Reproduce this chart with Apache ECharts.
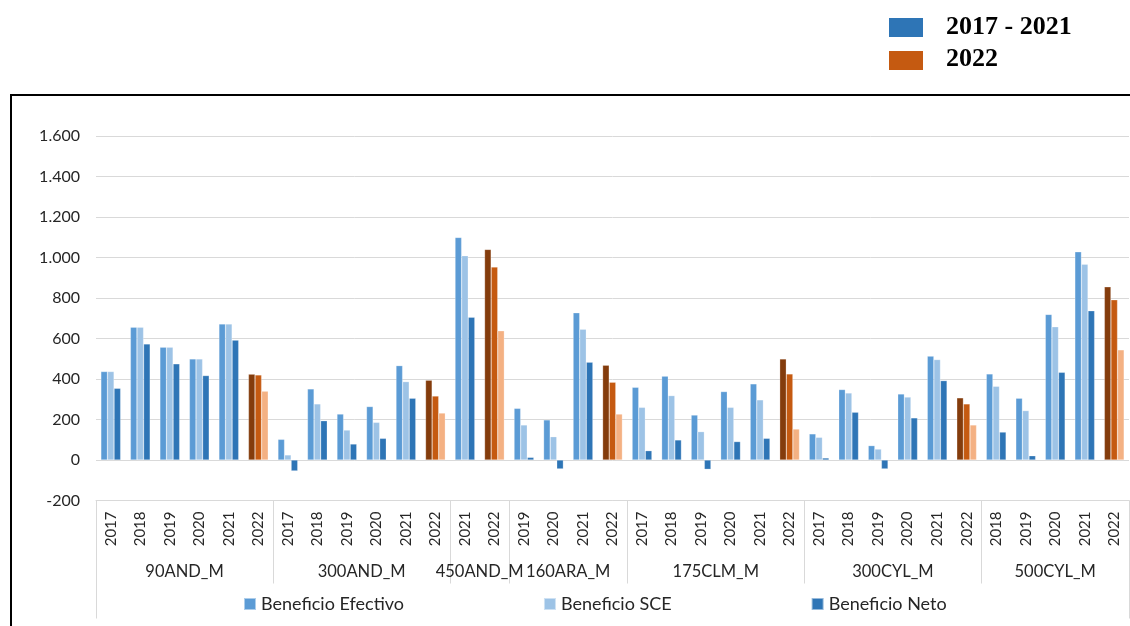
<!DOCTYPE html>
<html>
<head>
<meta charset="utf-8">
<script src="https://cdn.jsdelivr.net/npm/echarts@6/dist/echarts.min.js"></script>
<style>html,body{margin:0;padding:0;background:#fff;}#c{width:1130px;height:626px;}</style>
</head>
<body>
<div id="c"></div>
<script>
const yearLabels = ['2017','2018','2019','2020','2021','2022',
  '2017','2018','2019','2020','2021','2022',
  '2021','2022',
  '2019','2020','2021','2022',
  '2017','2018','2019','2020','2021','2022',
  '2017','2018','2019','2020','2021','2022',
  '2018','2019','2020','2021','2022'];
const groupNames = ['90AND_M','300AND_M','450AND_M','160ARA_M','175CLM_M','300CYL_M','500CYL_M'];
const groupSizes = [6,6,2,4,6,6,5];
const seriesNames = ['Beneficio Efectivo','Beneficio SCE','Beneficio Neto'];
const efectivo = [437,656,557,499,672,424, 102,351,227,264,466,394, 1099,1040, 255,198,727,468, 359,414,222,338,376,499, 129,348,71,326,513,307, 425,305,719,1028,855];
const sce      = [437,656,557,499,672,420, 25,277,148,186,387,316, 1009,953, 173,115,646,384, 260,318,140,260,297,425, 112,331,54,311,496,277, 364,244,658,967,791];
const neto     = [354,573,475,417,592,340, -54,194,79,107,305,232, 705,638, 13,-44,483,227, 46,99,-46,91,107,153, 10,236,-44,208,392,173, 138,21,433,737,544];
const yTicks = {min:-200, max:1600, interval:200};
const legendTop = [{label:'2017 - 2021', color:'#2E75B6'},{label:'2022', color:'#C55A11'}];

const baseColors = ['#5B9BD5','#9DC3E6','#2E75B6'];
const colors2022 = ['#843C0C','#C55A11','#F4B183'];
const FONT = 'Lato';

const catKeys = yearLabels.map((y,i)=> i + '|' + y);
const boundaryIdx = new Set(); const centerIdx = {};
let start = 0;
groupSizes.forEach((n,g)=>{ boundaryIdx.add(2*start); centerIdx[2*start+n] = groupNames[g]; start += n; });
boundaryIdx.add(2*start);
const halfKeys = []; for(let i=0;i<=2*start;i++) halfKeys.push('h'+i);

function build(vals, s){
  return vals.map((v,i)=> yearLabels[i]==='2022' ? {value:v, itemStyle:{color:colors2022[s]}} : v);
}

const chart = echarts.init(document.getElementById('c'), null, {renderer:'canvas'});
chart.setOption({
  animation:false,
  textStyle:{fontFamily:FONT},
  grid:{left:96, right:1, top:136, bottom:125.5, containLabel:false},
  legend:{left:243, top:595, padding:0, itemWidth:12, itemHeight:12, itemGap:139, icon:'rect',
    textStyle:{fontFamily:FONT, fontSize:18, color:'#262626'}, data:seriesNames},
  yAxis:{type:'value', min:yTicks.min, max:yTicks.max, interval:yTicks.interval,
    axisLine:{show:false}, axisTick:{show:false},
    splitLine:{lineStyle:{color:'#D9D9D9', width:1}},
    axisLabel:{fontFamily:FONT, fontSize:16, color:'#262626', margin:16,
      formatter:v=> v.toString().replace(/\B(?=(\d{3})+(?!\d))/g,'.')}},
  xAxis:[
    {type:'category', data:catKeys, position:'bottom', axisLine:{onZero:false, lineStyle:{color:'#D9D9D9'}},
      axisTick:{show:false},
      axisLabel:{rotate:90, interval:0, fontFamily:FONT, fontSize:15, color:'#262626', margin:11,
        formatter:(v)=> v.split('|')[1]}},
    {type:'category', data:halfKeys, boundaryGap:false, position:'bottom', axisLine:{show:false, onZero:false},
      axisTick:{show:true, length:83, interval:(i)=>boundaryIdx.has(i), lineStyle:{color:'#D9D9D9'}},
      axisLabel:{interval:(i)=> centerIdx[i]!==undefined, margin:63, fontFamily:FONT, fontSize:16.5, color:'#262626',
        formatter:(v,i)=> centerIdx[i]||''},
      splitLine:{show:false}},
    {type:'category', data:halfKeys, boundaryGap:false, position:'bottom', axisLine:{show:false, onZero:false},
      axisTick:{show:true, length:118, interval:(i)=> i===0 || i===halfKeys.length-1, lineStyle:{color:'#D9D9D9'}},
      axisLabel:{show:false}, splitLine:{show:false}}
  ],
  series: seriesNames.map((name,s)=>({
    name, type:'bar', xAxisIndex:0,
    data: build([efectivo,sce,neto][s], s),
    itemStyle:{color:baseColors[s], borderColor:'rgba(255,255,255,0.5)', borderWidth:0.5},
    barGap:'0%', barCategoryGap:'33%'
  })),
  graphic:[
    {type:'rect', shape:{x:11, y:95, width:1200, height:700}, style:{fill:'none', stroke:'#000', lineWidth:2}, silent:true},
    ...legendTop.flatMap((it,k)=>[
      {type:'rect', shape:{x:889, y:18+33*k, width:34, height:19}, style:{fill:it.color}},
      {type:'text', x:946, y:27+32.5*k, style:{text:it.label, fill:'#000', font:'bold 26px "Liberation Serif"', textVerticalAlign:'middle', verticalAlign:'middle'}}
    ])
  ]
});
</script>
</body>
</html>
